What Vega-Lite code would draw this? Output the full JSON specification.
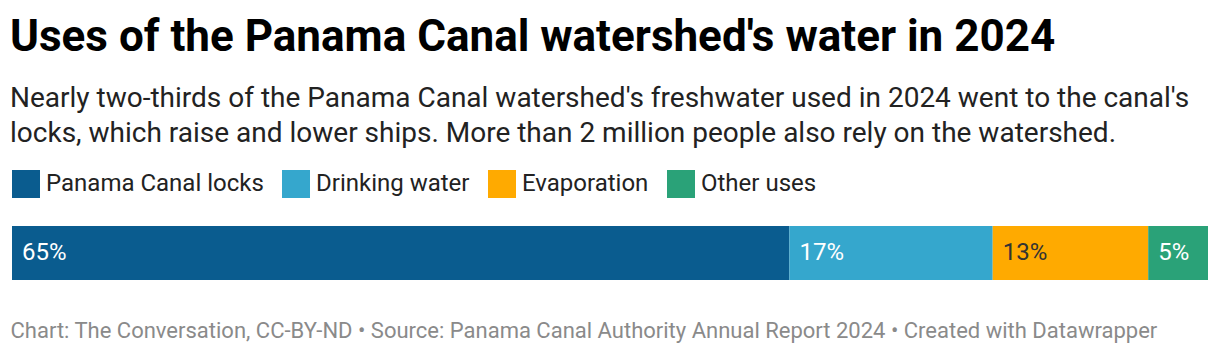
{
  "$schema": "https://vega.github.io/schema/vega-lite/v6.json",
  "width": 1196,
  "height": 54,
  "autosize": {"type": "none"},
  "padding": {"left": 12, "top": 226, "right": 12, "bottom": 78},
  "background": "white",
  "config": {
    "font": "Roboto",
    "view": {"stroke": null},
    "title": {"anchor": "start", "frame": "group", "font": "Roboto", "fontSize": 44, "fontWeight": "bold", "color": "#000000", "subtitleFont": "Roboto", "subtitleFontSize": 28, "subtitleColor": "#222222", "subtitleLineHeight": 35, "subtitlePadding": 25, "offset": 22, "dx": -2}
  },
  "title": {
    "text": "Uses of the Panama Canal watershed's water in 2024",
    "subtitle": ["Nearly two-thirds of the Panama Canal watershed's freshwater used in 2024 went to the canal's", "locks, which raise and lower ships. More than 2 million people also rely on the watershed."]
  },
  "data": {
    "values": [
      {"use": "Panama Canal locks", "value": 65, "label": "65%", "order": 1, "bar": "all"},
      {"use": "Drinking water", "value": 17, "label": "17%", "order": 2, "bar": "all"},
      {"use": "Evaporation", "value": 13, "label": "13%", "order": 3, "bar": "all"},
      {"use": "Other uses", "value": 5, "label": "5%", "order": 4, "bar": "all"}
    ]
  },
  "transform": [
    {"stack": "value", "groupby": ["bar"], "sort": [{"field": "order", "order": "ascending"}], "as": ["x0", "x1"]}
  ],
  "encoding": {
    "y": {"field": "bar", "type": "nominal", "axis": null, "scale": {"paddingInner": 0, "paddingOuter": 0}}
  },
  "layer": [
    {
      "mark": {"type": "bar"},
      "encoding": {
        "x": {"field": "x0", "type": "quantitative", "scale": {"domain": [0, 100], "nice": false}, "axis": {"labels": false, "ticks": false, "domain": false, "grid": false, "title": "Chart: The Conversation, CC-BY-ND • Source: Panama Canal Authority Annual Report 2024 • Created with Datawrapper", "titleFont": "Roboto", "titleFontSize": 22, "titleFontWeight": "normal", "titleColor": "#8a8a8a", "titleAnchor": "start", "titleAlign": "left", "titleBaseline": "alphabetic", "titleX": -2, "titleY": 57}},
        "x2": {"field": "x1"},
        "color": {"field": "use", "type": "nominal", "scale": {"domain": ["Panama Canal locks", "Drinking water", "Evaporation", "Other uses"], "range": ["#0a5c8f", "#35a7cd", "#ffaa00", "#2aa278"]}, "legend": {"orient": "top", "direction": "horizontal", "title": null, "offset": 28, "symbolType": "square", "symbolSize": 784, "symbolStrokeWidth": 0, "symbolOpacity": 1, "labelFont": "Roboto", "labelFontSize": 24, "labelColor": "#222222", "labelOffset": 6, "columnPadding": 18, "padding": 0, "labelLimit": 400}}
      }
    },
    {
      "mark": {"type": "text", "align": "left", "baseline": "middle", "dx": 10, "fontSize": 24, "font": "Roboto"},
      "encoding": {
        "x": {"field": "x0", "type": "quantitative"},
        "text": {"field": "label"},
        "color": {"condition": {"test": "datum.use === 'Evaporation'", "value": "#333333"}, "value": "#ffffff"}
      }
    }
  ]
}
